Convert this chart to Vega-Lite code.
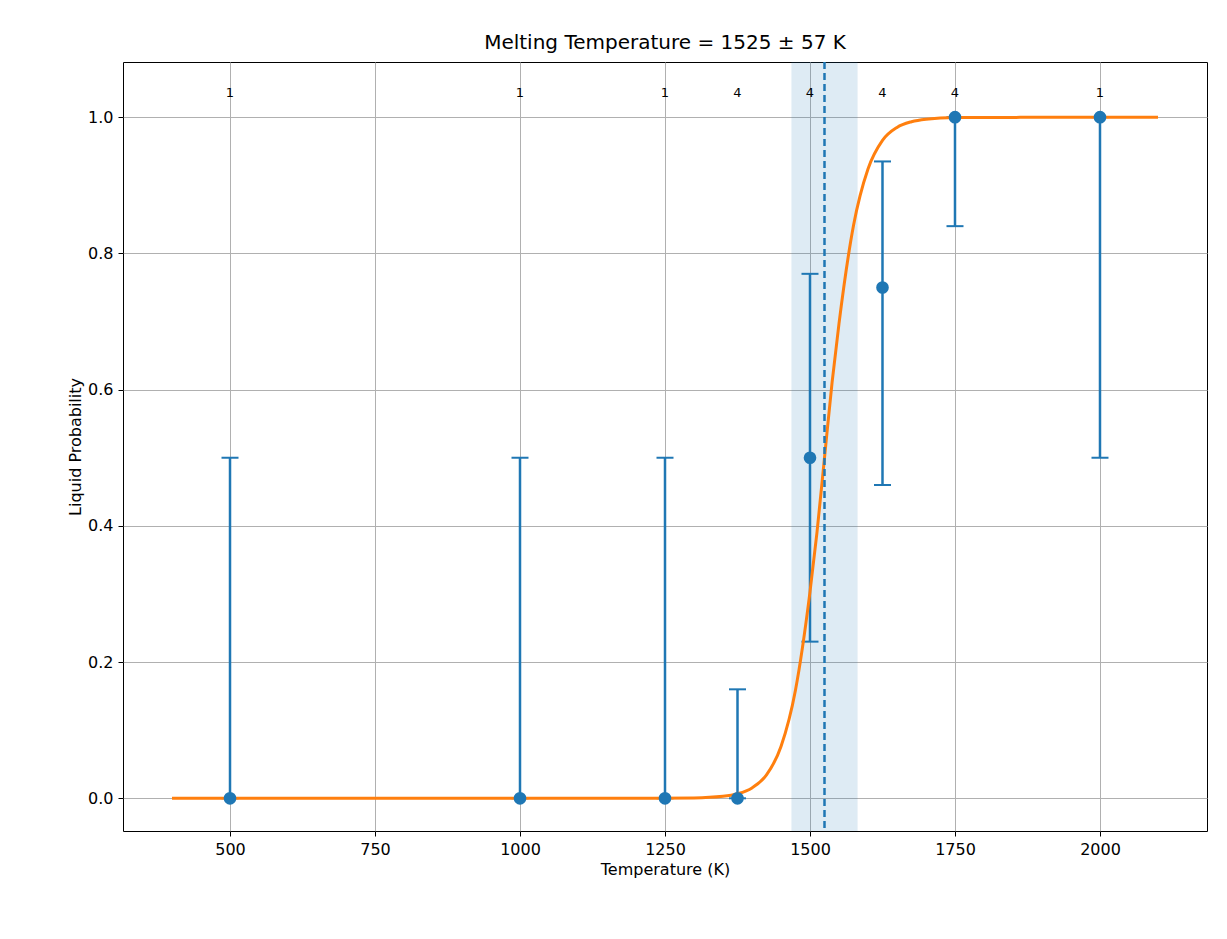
{
  "$schema": "https://vega.github.io/schema/vega-lite/v6.json",
  "width": 1084,
  "height": 769,
  "autosize": "none",
  "padding": {"left": 123, "top": 62, "right": 20, "bottom": 108},
  "background": "white",
  "config": {
    "font": "DejaVu Sans",
    "view": {"stroke": "black", "strokeWidth": 1},
    "axis": {
      "grid": true, "gridColor": "#b0b0b0", "gridWidth": 1, "domain": false,
      "tickColor": "black", "tickSize": 5, "labelFontSize": 16, "labelColor": "black",
      "titleFontSize": 16, "titleFontWeight": "normal", "titleColor": "black", "labelPadding": 5
    }
  },
  "title": {"text": "Melting Temperature = 1525 ± 57 K", "fontSize": 20, "fontWeight": "normal", "offset": 8},
  "datasets": {
    "pts": [
      {"T": 500, "p": 0, "lo": 0, "hi": 0.5, "n": "1"},
      {"T": 1000, "p": 0, "lo": 0, "hi": 0.5, "n": "1"},
      {"T": 1250, "p": 0, "lo": 0, "hi": 0.5, "n": "1"},
      {"T": 1375, "p": 0, "lo": 0, "hi": 0.16, "n": "4"},
      {"T": 1500, "p": 0.5, "lo": 0.23, "hi": 0.77, "n": "4"},
      {"T": 1625, "p": 0.75, "lo": 0.46, "hi": 0.935, "n": "4"},
      {"T": 1750, "p": 1, "lo": 0.84, "hi": 1, "n": "4"},
      {"T": 2000, "p": 1, "lo": 0.5, "hi": 1, "n": "1"}
    ],
    "fit": [
      {"T": 400, "p": 0}, {"T": 1200, "p": 0.00003}, {"T": 1300, "p": 0.00055},
      {"T": 1350, "p": 0.0029}, {"T": 1375, "p": 0.0067}, {"T": 1400, "p": 0.0153},
      {"T": 1425, "p": 0.0344}, {"T": 1450, "p": 0.0759}, {"T": 1475, "p": 0.159},
      {"T": 1500, "p": 0.303}, {"T": 1512, "p": 0.39}, {"T": 1525, "p": 0.5},
      {"T": 1538, "p": 0.61}, {"T": 1550, "p": 0.697}, {"T": 1575, "p": 0.841},
      {"T": 1600, "p": 0.924}, {"T": 1625, "p": 0.966}, {"T": 1650, "p": 0.985},
      {"T": 1675, "p": 0.9933}, {"T": 1700, "p": 0.997}, {"T": 1750, "p": 0.9994},
      {"T": 2100, "p": 1}
    ],
    "melt": [{"Tm": 1525, "lo": 1468, "hi": 1582}]
  },
  "layer": [
    {
      "data": {"name": "melt"},
      "mark": {"type": "rect", "color": "#1f77b4", "opacity": 0.15},
      "encoding": {
        "x": {"field": "lo", "type": "quantitative", "scale": {"domain": [315.5, 2184.5], "nice": false, "zero": false},
              "axis": {"values": [500, 750, 1000, 1250, 1500, 1750, 2000], "format": "d", "title": "Temperature (K)"}},
        "x2": {"field": "hi"},
        "y": {"value": 0}, "y2": {"value": 769}
      }
    },
    {
      "data": {"name": "pts"},
      "mark": {"type": "rule", "color": "#1f77b4", "strokeWidth": 2.5},
      "encoding": {
        "x": {"field": "T", "type": "quantitative"},
        "y": {"field": "lo", "type": "quantitative", "scale": {"domain": [-0.048, 1.081], "nice": false, "zero": false},
              "axis": {"values": [0, 0.2, 0.4, 0.6, 0.8, 1.0], "format": ".1f", "title": "Liquid Probability"}},
        "y2": {"field": "hi"}
      }
    },
    {
      "data": {"name": "pts"},
      "mark": {"type": "tick", "orient": "horizontal", "color": "#1f77b4", "opacity": 1, "size": 17, "thickness": 2},
      "encoding": {"x": {"field": "T", "type": "quantitative"}, "y": {"field": "lo", "type": "quantitative"}}
    },
    {
      "data": {"name": "pts"},
      "mark": {"type": "tick", "orient": "horizontal", "color": "#1f77b4", "opacity": 1, "size": 17, "thickness": 2},
      "encoding": {"x": {"field": "T", "type": "quantitative"}, "y": {"field": "hi", "type": "quantitative"}}
    },
    {
      "data": {"name": "fit"},
      "mark": {"type": "line", "color": "#ff7f0e", "strokeWidth": 3, "interpolate": "monotone"},
      "encoding": {"x": {"field": "T", "type": "quantitative"}, "y": {"field": "p", "type": "quantitative"}}
    },
    {
      "data": {"name": "pts"},
      "mark": {"type": "point", "filled": true, "opacity": 1, "color": "#1f77b4", "size": 160},
      "encoding": {"x": {"field": "T", "type": "quantitative"}, "y": {"field": "p", "type": "quantitative"}}
    },
    {
      "data": {"name": "melt"},
      "mark": {"type": "rule", "color": "#1f77b4", "strokeWidth": 2.5, "strokeDash": [7, 4]},
      "encoding": {"x": {"field": "Tm", "type": "quantitative"}, "y": {"value": 0}, "y2": {"value": 769}}
    },
    {
      "data": {"name": "pts"},
      "mark": {"type": "text", "fontSize": 13, "color": "black"},
      "encoding": {"x": {"field": "T", "type": "quantitative"}, "y": {"datum": 1.035, "type": "quantitative"}, "text": {"field": "n"}}
    }
  ]
}
